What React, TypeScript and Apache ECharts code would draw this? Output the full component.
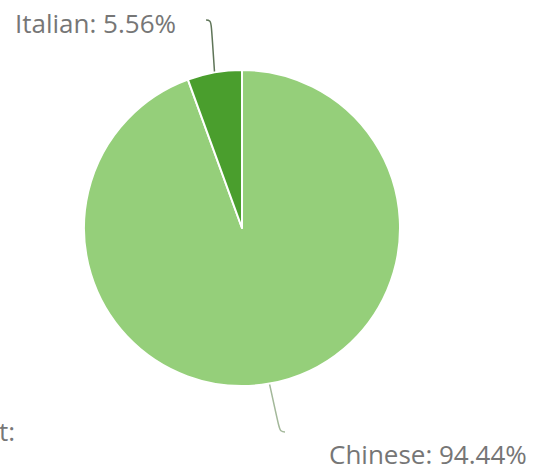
import React, { useEffect, useRef } from "react";
import * as echarts from "echarts";

const categories = ["Chinese", "Italian"];
const values = [94.44, 5.56];
const colors = ["#95cf7a", "#4a9e2d"];
const lineColors = ["#a3b89a", "#5f7558"];

export default function App() {
  const ref = useRef<HTMLDivElement>(null);
  useEffect(() => {
    const chart = echarts.init(ref.current!, null, { renderer: "svg" });
    const font = "'Open Sans', sans-serif";
    chart.setOption({
      animation: false,
      backgroundColor: "#ffffff",
      graphic: [
        {
          type: "text",
          x: -1,
          y: 431,
          style: {
            text: "t:",
            fill: "#777777",
            fontSize: 26,
            fontFamily: font,
            verticalAlign: "middle",
          },
        },
      ],
      series: [
        {
          type: "pie",
          center: [242, 228],
          radius: 158,
          startAngle: 90,
          clockwise: true,
          data: categories.map((c, i) => ({
            name: c,
            value: values[i],
            itemStyle: { color: colors[i] },
            label:
              c === "Chinese"
                ? { padding: [44, 0, 0, 44], lineHeight: 26 }
                : { padding: [6, 17, 0, 0], lineHeight: 30 },
            labelLine: { lineStyle: { color: lineColors[i], width: 1.5 } },
          })),
          itemStyle: { borderColor: "#ffffff", borderWidth: 2 },
          label: {
            show: true,
            formatter: (p: any) => `${p.name}: ${p.value.toFixed(2)}%`,
            color: "#767676",
            fontSize: 26,
            fontFamily: font,
            overflow: "none",
          },
          labelLine: { show: true, smooth: 0.5, length: 20, length2: 5 },
          labelLayout: (params: any) => {
            const name = categories[params.dataIndex];
            return name === "Chinese"
              ? { x: 285, y: 397, align: "left", verticalAlign: "top" }
              : { x: 15, y: 2, align: "left", verticalAlign: "top" };
          },
        },
      ],
    });
    return () => chart.dispose();
  }, []);
  return (
    <div
      ref={ref}
      style={{ position: "fixed", left: 0, top: 0, width: 535, height: 471 }}
    />
  );
}
